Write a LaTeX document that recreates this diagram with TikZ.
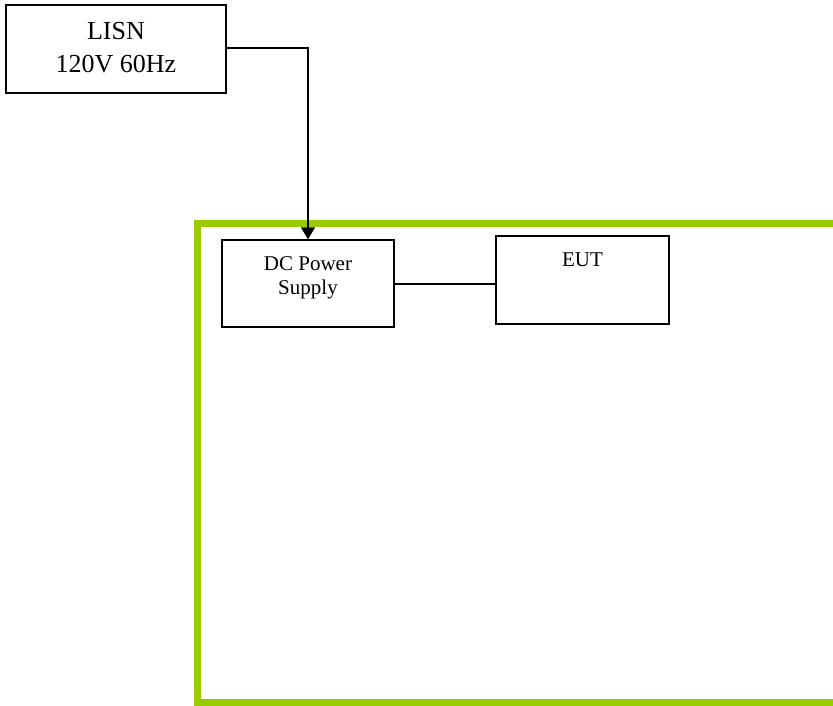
\documentclass[tikz,border=0pt]{standalone}
\usepackage{fontspec}
\setmainfont{Liberation Serif}
\usetikzlibrary{arrows.meta}
\definecolor{framegreen}{RGB}{153,204,0}
\begin{document}
\begin{tikzpicture}[x=1pt,y=-1pt,
  blockbox/.style={draw=black,line width=1.3pt,fill=white,inner sep=0pt},
  wire/.style={draw=black,line width=1.3pt}]
\useasboundingbox (0,0) rectangle (833,706);
% green frame (extends past right edge)
\draw[framegreen,line width=7pt] (845,223.5) -- (197.5,223.5) -- (197.5,702.5) -- (845,702.5);
% LISN
\node[blockbox,minimum width=220pt,minimum height=88pt] (lisn) at (116,49) {};
\node[font=\fontsize{26}{33}\selectfont,align=center] (lisntxt) at (116,48) {LISN\\120V 60Hz};
% DC power supply
\node[blockbox,minimum width=172pt,minimum height=87pt] (dc) at (308,283.5) {};
\node[font=\fontsize{21}{24}\selectfont,align=center] (dctxt) at (308,278) {DC Power\\Supply};
% EUT
\node[blockbox,minimum width=173pt,minimum height=88pt] (eut) at (582.5,280) {};
\node[font=\fontsize{21}{24}\selectfont] (euttxt) at (582.5,260) {EUT};
% connectors
\coordinate (bend) at (308,48);
\draw[wire,-{Triangle[length=12pt,width=14pt]}] (lisn.east |- bend) -- (bend) -- (dc.north);
\draw[wire] (dc.east |- 0,284) -- (eut.west |- 0,284);
\end{tikzpicture}
\end{document}
